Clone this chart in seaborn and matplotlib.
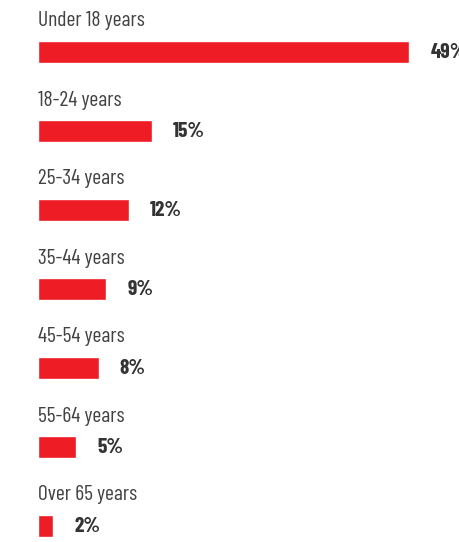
import matplotlib
matplotlib.use("Agg")
import matplotlib.pyplot as plt
import seaborn as sns
import pandas as pd

age_groups = ["Under 18 years", "18-24 years", "25-34 years", "35-44 years",
              "45-54 years", "55-64 years", "Over 65 years"]
shares = [49, 15, 12, 9, 8, 5, 2]

sns.set_theme(style="white")
plt.rcParams["font.family"] = ["Barlow Condensed", "DejaVu Sans"]

df = pd.DataFrame({"group": age_groups, "share": shares})

fig = plt.figure(figsize=(4.6, 5.42), dpi=100)
ax = fig.add_axes([0, 0, 1, 1])

sns.barplot(data=df, x="share", y="group", orient="h", color="#EE1C25",
            saturation=1, width=0.28, ax=ax)

px = 7.58   # pixels per percentage point
row = 79    # pixels between rows
ax.set_xlim(-38 / px, (460 - 38) / px)
ax.set_ylim((542 - 52) / row, -52 / row)

for i, (g, v) in enumerate(zip(age_groups, shares)):
    ax.text(0, i - 25.5 / row, g, ha="left", va="baseline", fontsize=15.5,
            color="#424242")
    ax.text(v + 21 / px, i + 6 / row, f"{v}%", ha="left", va="baseline",
            fontsize=15.5, fontweight="bold", color="#333333")

ax.set_axis_off()
fig.savefig("out.png", dpi=100)
